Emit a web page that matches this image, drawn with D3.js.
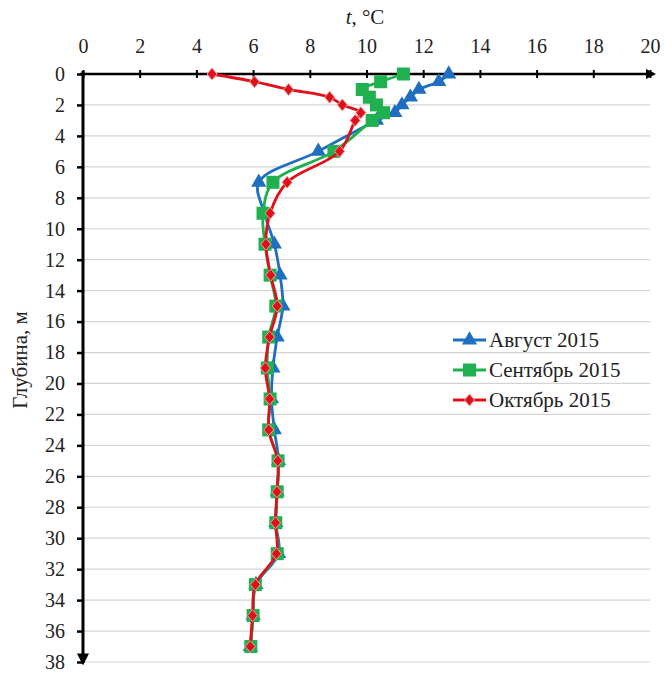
<!DOCTYPE html>
<html><head><meta charset="utf-8">
<script src="https://cdn.jsdelivr.net/npm/d3@7"></script>
<style>body{margin:0;background:#fff}svg{display:block}text{font-family:"Liberation Serif","Times New Roman",serif;fill:#222}</style>
</head><body><svg id="c" width="664" height="675"></svg>
<script>
const depths = [0,0.5,1,1.5,2,2.5,3,5,7,9,11,13,15,17,19,21,23,25,27,29,31,33,35,37];
const august    = [12.9,12.55,11.85,11.55,11.25,11.0,10.35,8.3,6.2,6.4,6.75,6.95,7.05,6.85,6.7,6.65,6.75,6.9,6.85,6.8,6.9,6.1,6.0,5.9];
const september = [11.3,10.5,9.85,10.1,10.35,10.6,10.2,8.85,6.7,6.35,6.42,6.6,6.8,6.55,6.5,6.6,6.55,6.88,6.85,6.8,6.85,6.08,6.0,5.92];
const october   = [4.55,6.05,7.25,8.7,9.15,9.8,9.6,9.05,7.2,6.6,6.45,6.62,6.85,6.58,6.43,6.58,6.55,6.87,6.84,6.79,6.82,6.08,5.98,5.9];
const seriesNames = ["Август 2015","Сентябрь 2015","Октябрь 2015"];
const seriesColors = ["#1f6fc1","#1fb04f","#e0101a"];
const xTicks = [0,2,4,6,8,10,12,14,16,18,20];
const yTicks = d3.range(0,39,2);

const svg = d3.select("#c");
const x = d3.scaleLinear().domain([0,20]).range([83,650]);
const y = d3.scaleLinear().domain([0,38]).range([74,662]);

// gridlines
svg.append("g").selectAll("line").data(yTicks.filter(d=>d>0)).join("line")
  .attr("x1",x(0)).attr("x2",x(20)).attr("y1",d=>y(d)).attr("y2",d=>y(d))
  .attr("stroke","#d4d4d4").attr("stroke-width",1.2);

// x axis (top)
const xa = svg.append("g").attr("transform",`translate(0,${y(0)})`)
  .call(d3.axisTop(x).tickValues(xTicks).tickSize(5).tickSizeOuter(0).tickPadding(16));
xa.select(".domain").remove();
xa.selectAll(".tick line").attr("stroke","#000").attr("stroke-width",2).attr("y2",-4).attr("y1",4);
xa.selectAll(".tick text").attr("font-size",20).attr("fill","#222").attr("font-family","Liberation Serif");

// y axis (left)
const ya = svg.append("g").attr("transform",`translate(${x(0)},0)`)
  .call(d3.axisLeft(y).tickValues(yTicks).tickSize(6).tickSizeOuter(0).tickPadding(12));
ya.select(".domain").remove();
ya.selectAll(".tick line").attr("stroke","#000").attr("stroke-width",2.5);
ya.selectAll(".tick text").attr("font-size",20).attr("fill","#222").attr("font-family","Liberation Serif");

// arrows
const defs = svg.append("defs");
defs.append("marker").attr("id","arr").attr("viewBox","0 0 10 10").attr("refX",8).attr("refY",5)
  .attr("markerWidth",4).attr("markerHeight",4).attr("orient","auto")
  .append("path").attr("d","M0,0L10,5L0,10z").attr("fill","#000");
svg.append("line").attr("x1",x(0)-3).attr("x2",x(20)+4).attr("y1",y(0)).attr("y2",y(0))
  .attr("stroke","#000").attr("stroke-width",2.5).attr("marker-end","url(#arr)");
svg.append("line").attr("x1",x(0)).attr("x2",x(0)).attr("y1",y(0)-3).attr("y2",y(38)+1)
  .attr("stroke","#000").attr("stroke-width",3).attr("marker-end","url(#arr)");

// titles
svg.append("text").attr("x",365).attr("y",24).attr("text-anchor","middle").attr("font-size",21)
  .html('<tspan font-style="italic">t</tspan>, °C');
svg.append("text").attr("transform","translate(27,360) rotate(-90)").attr("text-anchor","middle")
  .attr("font-size",21).text("Глубина, м");

// series
const data = [august, september, october];
const line = d3.line().x(d=>x(d[0])).y(d=>y(d[1])).curve(d3.curveCatmullRom.alpha(0.5));
function marker(g, i, cx, cy){
  if(i===0){
    g.append("path").attr("d",d3.symbol(d3.symbolTriangle,100)()).attr("transform",`translate(${cx},${cy})`).attr("fill",seriesColors[0]);
  } else if(i===1){
    g.append("rect").attr("x",cx-6.5).attr("y",cy-6.5).attr("width",13).attr("height",13).attr("fill",seriesColors[1]);
  } else {
    g.append("path").attr("d","M0,-6L5,0L0,6L-5,0Z").attr("transform",`translate(${cx},${cy})`)
      .attr("fill",seriesColors[2]).attr("stroke","#f0a0a0").attr("stroke-width",1);
  }
}
data.forEach((vals,i)=>{
  const pts = vals.map((v,j)=>[v,depths[j]]);
  const g = svg.append("g");
  g.append("path").datum(pts).attr("d",line).attr("fill","none").attr("stroke",seriesColors[i]).attr("stroke-width",2.8);
  pts.forEach(p=>marker(g,i,x(p[0]),y(p[1])));
});

// legend
const lg = svg.append("g");
seriesNames.forEach((n,i)=>{
  const yy = 340 + i*30;
  lg.append("line").attr("x1",453).attr("x2",486).attr("y1",yy).attr("y2",yy).attr("stroke",seriesColors[i]).attr("stroke-width",2.8);
  marker(lg,i,469.5,yy);
  lg.append("text").attr("x",489).attr("y",yy+7).attr("font-size",21).text(n);
});
</script></body></html>
